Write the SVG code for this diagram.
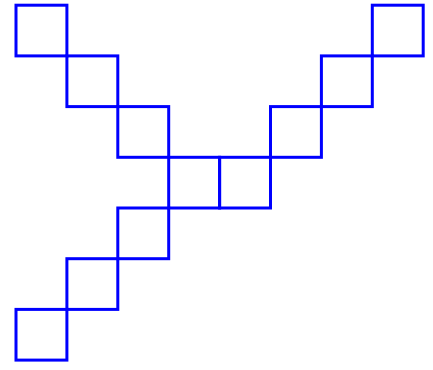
<svg xmlns="http://www.w3.org/2000/svg" width="433" height="370" viewBox="0 0 433 370">
<style>
.sq{fill:none;stroke:#0000ff;stroke-width:3;}
</style>
<rect width="433" height="370" fill="#ffffff"/>
<g id="s1"><rect class="sq" x="16" y="5.2" width="50.9" height="50.7"/></g>
<g id="s2"><rect class="sq" x="66.9" y="55.9" width="50.9" height="50.7"/></g>
<g id="s3"><rect class="sq" x="117.8" y="106.6" width="50.9" height="50.7"/></g>
<g id="s4"><rect class="sq" x="168.7" y="157.3" width="50.9" height="50.7"/></g>
<g id="s5"><rect class="sq" x="219.6" y="157.3" width="50.9" height="50.7"/></g>
<g id="s6"><rect class="sq" x="270.5" y="106.6" width="50.9" height="50.7"/></g>
<g id="s7"><rect class="sq" x="321.4" y="55.9" width="50.9" height="50.7"/></g>
<g id="s8"><rect class="sq" x="372.3" y="5.2" width="50.9" height="50.7"/></g>
<g id="s9"><rect class="sq" x="117.8" y="208" width="50.9" height="50.7"/></g>
<g id="s10"><rect class="sq" x="66.9" y="258.7" width="50.9" height="50.7"/></g>
<g id="s11"><rect class="sq" x="16" y="309.4" width="50.9" height="50.7"/></g>
<g id="connectors"></g>
</svg>
